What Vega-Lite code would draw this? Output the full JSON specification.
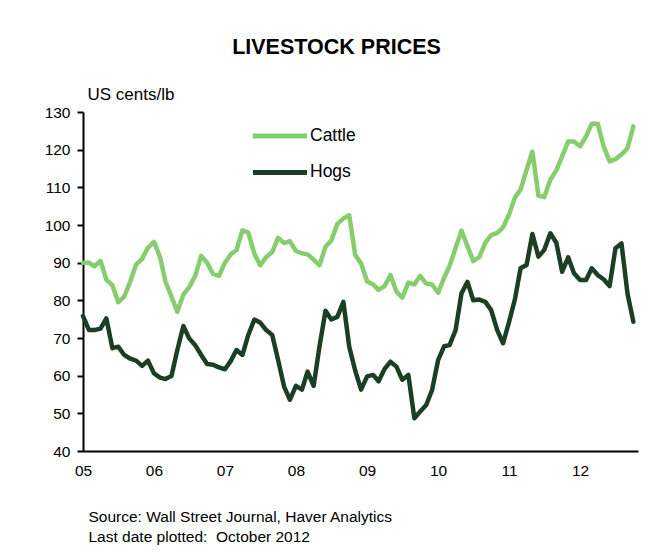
{
  "$schema": "https://vega.github.io/schema/vega-lite/v6.json",
  "autosize": {"type": "none"},
  "padding": {"left": 83, "top": 112, "right": 27, "bottom": 109},
  "width": 555,
  "height": 339,
  "background": "white",
  "title": {
    "text": "LIVESTOCK PRICES",
    "anchor": "middle",
    "frame": "group",
    "dx": -24,
    "offset": 10,
    "baseline": "alphabetic",
    "fontSize": 21.5,
    "fontWeight": "bold",
    "font": "Liberation Sans",
    "color": "black"
  },
  "data": {
    "values": [
      {"date": "2005-01", "Cattle": 90, "Hogs": 75.8},
      {"date": "2005-02", "Cattle": 90, "Hogs": 72.1},
      {"date": "2005-03", "Cattle": 89, "Hogs": 72.1},
      {"date": "2005-04", "Cattle": 90.5, "Hogs": 72.5},
      {"date": "2005-05", "Cattle": 85.5, "Hogs": 75.2},
      {"date": "2005-06", "Cattle": 84, "Hogs": 67.3},
      {"date": "2005-07", "Cattle": 79.5, "Hogs": 67.7},
      {"date": "2005-08", "Cattle": 81, "Hogs": 65.5},
      {"date": "2005-09", "Cattle": 85, "Hogs": 64.5},
      {"date": "2005-10", "Cattle": 89.5, "Hogs": 64.0},
      {"date": "2005-11", "Cattle": 91, "Hogs": 62.6},
      {"date": "2005-12", "Cattle": 94, "Hogs": 64.0},
      {"date": "2006-01", "Cattle": 95.5, "Hogs": 60.6},
      {"date": "2006-02", "Cattle": 91.5, "Hogs": 59.5},
      {"date": "2006-03", "Cattle": 85, "Hogs": 59.1},
      {"date": "2006-04", "Cattle": 81, "Hogs": 59.9},
      {"date": "2006-05", "Cattle": 77, "Hogs": 66.8},
      {"date": "2006-06", "Cattle": 81.5, "Hogs": 73.2},
      {"date": "2006-07", "Cattle": 83.5, "Hogs": 69.9},
      {"date": "2006-08", "Cattle": 86.5, "Hogs": 68.1},
      {"date": "2006-09", "Cattle": 91.8, "Hogs": 65.5},
      {"date": "2006-10", "Cattle": 90, "Hogs": 63.1},
      {"date": "2006-11", "Cattle": 87, "Hogs": 62.9},
      {"date": "2006-12", "Cattle": 86.5, "Hogs": 62.2},
      {"date": "2007-01", "Cattle": 90, "Hogs": 61.7},
      {"date": "2007-02", "Cattle": 92.3, "Hogs": 64},
      {"date": "2007-03", "Cattle": 93.3, "Hogs": 66.8},
      {"date": "2007-04", "Cattle": 98.6, "Hogs": 65.5},
      {"date": "2007-05", "Cattle": 98, "Hogs": 70.8},
      {"date": "2007-06", "Cattle": 92.4, "Hogs": 74.9},
      {"date": "2007-07", "Cattle": 89.3, "Hogs": 74.1},
      {"date": "2007-08", "Cattle": 91.5, "Hogs": 72.1},
      {"date": "2007-09", "Cattle": 92.8, "Hogs": 70.8},
      {"date": "2007-10", "Cattle": 96.6, "Hogs": 64.2},
      {"date": "2007-11", "Cattle": 95.2, "Hogs": 57.1},
      {"date": "2007-12", "Cattle": 95.7, "Hogs": 53.6},
      {"date": "2008-01", "Cattle": 93.1, "Hogs": 57.3},
      {"date": "2008-02", "Cattle": 92.5, "Hogs": 56.3},
      {"date": "2008-03", "Cattle": 92.2, "Hogs": 61.1},
      {"date": "2008-04", "Cattle": 90.8, "Hogs": 57.3},
      {"date": "2008-05", "Cattle": 89.3, "Hogs": 67.7},
      {"date": "2008-06", "Cattle": 94.2, "Hogs": 77.2},
      {"date": "2008-07", "Cattle": 95.9, "Hogs": 74.9},
      {"date": "2008-08", "Cattle": 100.3, "Hogs": 75.6},
      {"date": "2008-09", "Cattle": 101.7, "Hogs": 79.6},
      {"date": "2008-10", "Cattle": 102.6, "Hogs": 67.7},
      {"date": "2008-11", "Cattle": 92, "Hogs": 61.3},
      {"date": "2008-12", "Cattle": 89.8, "Hogs": 56.3},
      {"date": "2009-01", "Cattle": 85, "Hogs": 59.8},
      {"date": "2009-02", "Cattle": 84.2, "Hogs": 60.2},
      {"date": "2009-03", "Cattle": 82.8, "Hogs": 58.5},
      {"date": "2009-04", "Cattle": 83.8, "Hogs": 61.8},
      {"date": "2009-05", "Cattle": 86.7, "Hogs": 63.7},
      {"date": "2009-06", "Cattle": 82.3, "Hogs": 62.4},
      {"date": "2009-07", "Cattle": 80.7, "Hogs": 58.9},
      {"date": "2009-08", "Cattle": 84.7, "Hogs": 60.2},
      {"date": "2009-09", "Cattle": 84.2, "Hogs": 48.7},
      {"date": "2009-10", "Cattle": 86.5, "Hogs": 50.5},
      {"date": "2009-11", "Cattle": 84.4, "Hogs": 52.2},
      {"date": "2009-12", "Cattle": 84.2, "Hogs": 56.2},
      {"date": "2010-01", "Cattle": 82, "Hogs": 64.1},
      {"date": "2010-02", "Cattle": 86, "Hogs": 67.8},
      {"date": "2010-03", "Cattle": 89.1, "Hogs": 68.1},
      {"date": "2010-04", "Cattle": 93.9, "Hogs": 72.1},
      {"date": "2010-05", "Cattle": 98.5, "Hogs": 81.8},
      {"date": "2010-06", "Cattle": 94.4, "Hogs": 84.9},
      {"date": "2010-07", "Cattle": 90.4, "Hogs": 80.0},
      {"date": "2010-08", "Cattle": 91.5, "Hogs": 80.2},
      {"date": "2010-09", "Cattle": 95.3, "Hogs": 79.6},
      {"date": "2010-10", "Cattle": 97.3, "Hogs": 77.4},
      {"date": "2010-11", "Cattle": 97.9, "Hogs": 72.1},
      {"date": "2010-12", "Cattle": 99.4, "Hogs": 68.6},
      {"date": "2011-01", "Cattle": 102.8, "Hogs": 74.3},
      {"date": "2011-02", "Cattle": 107.4, "Hogs": 80.5},
      {"date": "2011-03", "Cattle": 109.4, "Hogs": 88.5},
      {"date": "2011-04", "Cattle": 114.6, "Hogs": 89.4},
      {"date": "2011-05", "Cattle": 119.5, "Hogs": 97.6},
      {"date": "2011-06", "Cattle": 107.8, "Hogs": 91.6},
      {"date": "2011-07", "Cattle": 107.4, "Hogs": 93.4},
      {"date": "2011-08", "Cattle": 112, "Hogs": 97.8},
      {"date": "2011-09", "Cattle": 114.5, "Hogs": 95.3},
      {"date": "2011-10", "Cattle": 118.2, "Hogs": 87.6},
      {"date": "2011-11", "Cattle": 122.2, "Hogs": 91.4},
      {"date": "2011-12", "Cattle": 122.2, "Hogs": 87.2},
      {"date": "2012-01", "Cattle": 120.9, "Hogs": 85.4},
      {"date": "2012-02", "Cattle": 123.5, "Hogs": 85.4},
      {"date": "2012-03", "Cattle": 126.9, "Hogs": 88.5},
      {"date": "2012-04", "Cattle": 126.9, "Hogs": 86.7},
      {"date": "2012-05", "Cattle": 120.9, "Hogs": 85.6},
      {"date": "2012-06", "Cattle": 116.9, "Hogs": 83.8},
      {"date": "2012-07", "Cattle": 117.5, "Hogs": 93.8},
      {"date": "2012-08", "Cattle": 118.7, "Hogs": 95.1},
      {"date": "2012-09", "Cattle": 120.4, "Hogs": 81.8},
      {"date": "2012-10", "Cattle": 126.2, "Hogs": 74.3}
    ]
  },
  "transform": [
    {"fold": ["Cattle", "Hogs"], "as": ["series", "price"]}
  ],
  "mark": {"type": "line", "strokeWidth": 4.5, "strokeJoin": "round", "strokeCap": "round"},
  "encoding": {
    "x": {
      "field": "date",
      "type": "temporal",
      "scale": {
        "type": "utc",
        "domain": [
          {"year": 2005, "month": 1, "date": 1, "utc": true},
          {"year": 2012, "month": 10, "date": 25, "utc": true}
        ]
      },
      "axis": {
        "title": ["Source: Wall Street Journal, Haver Analytics", "Last date plotted:\u00a0 October 2012"],
        "titleAnchor": "start",
        "titleAlign": "left",
        "titleBaseline": "alphabetic",
        "titleX": 5,
        "titleY": 70,
        "titleLineHeight": 20,
        "titleFontSize": 15.5,
        "titleFontWeight": "normal",
        "titleFont": "Liberation Sans",
        "titleColor": "black",
        "tickCount": {"interval": "year", "step": 1},
        "labelExpr": "utcFormat(datum.value, '%y')",
        "labelFont": "Liberation Sans",
        "labelFontSize": 15.5,
        "labelColor": "black",
        "labelPadding": 12,
        "labelFlush": false,
        "labelOverlap": false,
        "ticks": false,
        "grid": false,
        "domainColor": "black",
        "domainWidth": 2
      }
    },
    "y": {
      "field": "price",
      "type": "quantitative",
      "scale": {"domain": [40, 130], "nice": false, "zero": false},
      "axis": {
        "title": "US cents/lb",
        "titleAngle": 0,
        "titleAlign": "left",
        "titleAnchor": "end",
        "titleBaseline": "alphabetic",
        "titleX": 4,
        "titleY": -13,
        "titleFontSize": 17,
        "titleFontWeight": "normal",
        "titleFont": "Liberation Sans",
        "titleColor": "black",
        "values": [40, 50, 60, 70, 80, 90, 100, 110, 120, 130],
        "labelFont": "Liberation Sans",
        "labelFontSize": 15.5,
        "labelColor": "black",
        "labelPadding": 7,
        "ticks": true,
        "tickSize": 6,
        "tickWidth": 2,
        "tickColor": "black",
        "grid": false,
        "domainColor": "black",
        "domainWidth": 2
      }
    },
    "color": {
      "field": "series",
      "type": "nominal",
      "scale": {"domain": ["Cattle", "Hogs"], "range": ["#86CD6E", "#1B3F24"]},
      "legend": {
        "title": null,
        "orient": "none",
        "legendX": 181,
        "legendY": 8,
        "padding": 0,
        "symbolType": "M-2,0H2",
        "symbolSize": 729,
        "symbolStrokeWidth": 5,
        "labelFont": "Liberation Sans",
        "labelFontSize": 17.5,
        "labelColor": "black",
        "labelOffset": 14,
        "rowPadding": 10.4
      }
    }
  },
  "config": {
    "view": {"stroke": null},
    "font": "Liberation Sans"
  }
}
